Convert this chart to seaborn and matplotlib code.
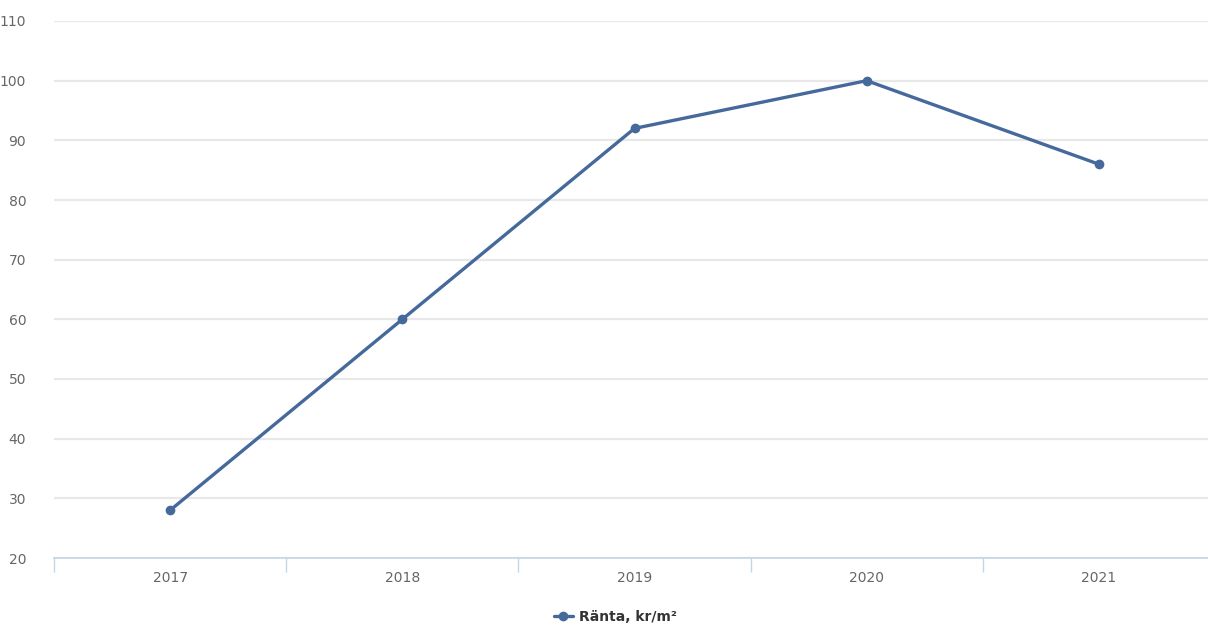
import matplotlib
matplotlib.use('Agg')
import matplotlib.pyplot as plt
import seaborn as sns
import pandas as pd
import numpy as np

years = ['2017', '2018', '2019', '2020', '2021']
ranta = [28, 60, 92, 100, 86]
y_ticks = [20, 30, 40, 50, 60, 70, 80, 90, 100, 110]
series_name = 'Ränta, kr/m²'

line_color = '#46699b'
grid_color = '#e8e8e8'
axis_color = '#c5d5e6'
label_color = '#666666'

sns.set_style('white')
plt.rcParams['font.family'] = ['DejaVu Sans']

df = pd.DataFrame({'year': years, 'value': ranta})

fig = plt.figure(figsize=(12.08, 6.25), dpi=100)
# plot area in pixel coords: left 54, right 1215, top 21, bottom 558
ax = fig.add_axes([54 / 1208, 67 / 625, (1215 - 54) / 1208, (558 - 21) / 625])

sns.lineplot(data=df, x='year', y='value', ax=ax, color=line_color, linewidth=2.4,
             marker='o', markersize=7, markeredgewidth=0, label=series_name, sort=False)

ax.set_xlim(-0.5, len(years) - 0.5)
ax.set_ylim(20, 110)
ax.set_yticks(y_ticks)
ax.grid(axis='y', color=grid_color, linewidth=1.6)
ax.set_axisbelow(True)

for side in ['top', 'right', 'left']:
    ax.spines[side].set_visible(False)
ax.spines['bottom'].set_color(axis_color)
ax.spines['bottom'].set_linewidth(1.2)

# category labels without ticks; boundary ticks as minor ticks
ax.set_xticks(range(len(years)))
ax.set_xticklabels(years)
ax.set_xticks(np.arange(-0.5, len(years), 1.0), minor=True)
ax.tick_params(axis='x', which='major', bottom=True, length=0, pad=9, labelsize=10,
               labelcolor=label_color)
ax.tick_params(axis='x', which='minor', bottom=True, length=10, width=1, color=axis_color,
               direction='out')
ax.tick_params(axis='y', length=0, pad=20, labelsize=10, labelcolor=label_color)
ax.set_xlabel('')
ax.set_ylabel('')

ax.get_legend().remove()
handles, labels = ax.get_legend_handles_labels()
fig.legend(handles, labels, loc='center', bbox_to_anchor=(615 / 1208, 1 - 617 / 625),
           frameon=False, handlelength=1.4, handletextpad=0.4,
           prop={'weight': 'bold', 'size': 10}, labelcolor='#333333')

fig.savefig('out.png', dpi=100)
